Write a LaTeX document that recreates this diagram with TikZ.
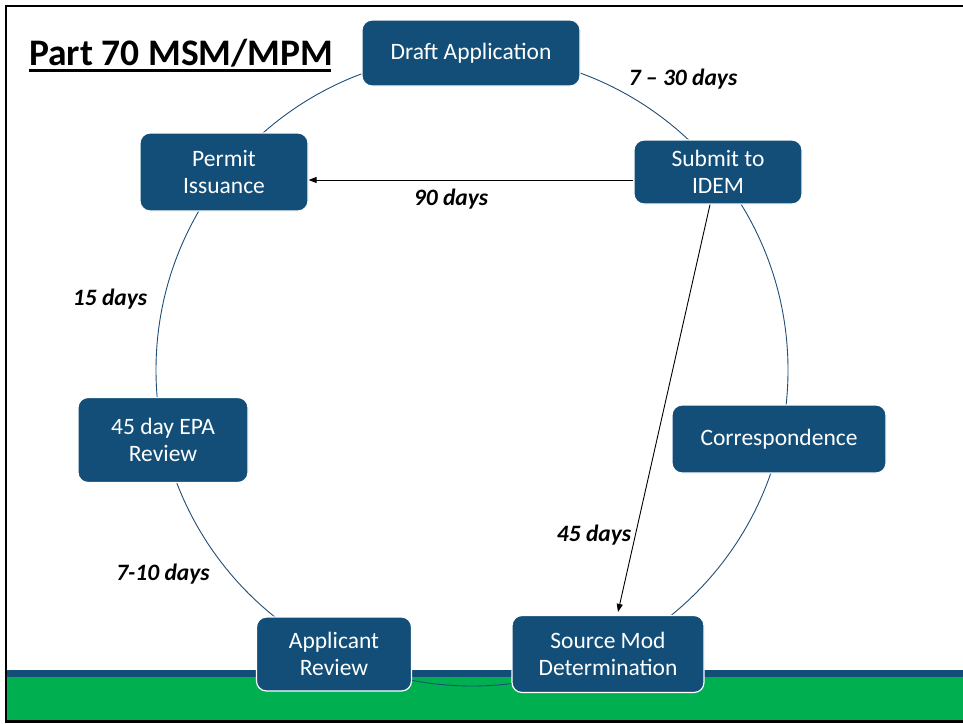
\documentclass[tikz,border=0pt]{standalone}
\usepackage{fontspec}
\setmainfont{Carlito}
\usetikzlibrary{arrows.meta,calc}
\definecolor{stepblue}{RGB}{18,78,120}
\definecolor{bandgreen}{RGB}{0,176,80}
\definecolor{ringblue}{RGB}{31,78,121}
\tikzset{
  stepbox/.style={rectangle, rounded corners=10pt, fill=stepblue, draw=white,
    line width=1.2pt, text=white, align=center, inner sep=0pt,
    font=\fontsize{23.5}{27}\selectfont},
  daylabel/.style={font=\fontsize{23.5}{27}\selectfont\bfseries\itshape, inner sep=0pt},
  flow/.style={-{Triangle[length=8pt,width=6pt]}, line width=0.9pt, black},
}
\begin{document}
\begin{tikzpicture}[x=1pt,y=-1pt]
\useasboundingbox (0,0) rectangle (963,723);
\fill[white] (0,0) rectangle (963,723);
% footer bands
\fill[stepblue] (6,670) rectangle (963,677);
\fill[bandgreen] (6,677) rectangle (963,721);
% slide frame
\begin{scope}
\clip (0,0) rectangle (963,723);
\draw[line width=2.5pt] (6,6) rectangle (990,721.5);
\end{scope}
% title
\node[anchor=base west, font=\fontsize{37.5}{44}\selectfont\bfseries, inner sep=0pt] (title) at (29,65.5) {Part 70 MSM/MPM};
\draw[line width=2.6pt] (29,70.5) -- (331,70.5);
% cycle ring
\draw[ringblue, line width=0.9pt] (472,370) circle[radius=316];
% steps
\node[stepbox, minimum width=218pt, minimum height=66pt] (draft) at (471,53) {Draft Application};
\node[stepbox, minimum width=168pt, minimum height=64pt] (submit) at (718,172) {Submit to\\IDEM};
\node[stepbox, minimum width=214pt, minimum height=68pt] (corr) at (779,439) {Correspondence};
\node[stepbox, minimum width=192pt, minimum height=77pt] (source) at (608,654) {Source Mod\\Determination};
\node[stepbox, minimum width=155pt, minimum height=74pt] (applicant) at (334,654) {Applicant\\Review};
\node[stepbox, minimum width=170pt, minimum height=85pt] (epa) at (163,440) {45 day EPA\\Review};
\node[stepbox, minimum width=168pt, minimum height=78pt] (permit) at (224,172) {Permit\\Issuance};
% direct paths
\draw[flow] ([yshift=-8pt]submit.west) -- ([yshift=-8pt]permit.east);
\draw[flow] ([xshift=-8pt]submit.south) -- ([xshift=10pt,yshift=3pt]source.north);
% durations
\node[daylabel] (l1) at (683,79) {7 – 30 days};
\node[daylabel] (l2) at (451,199) {90 days};
\node[daylabel] (l3) at (110,299) {15 days};
\node[daylabel] (l4) at (594,535) {45 days};
\node[daylabel] (l5) at (163,574) {7-10 days};
\end{tikzpicture}
\end{document}
